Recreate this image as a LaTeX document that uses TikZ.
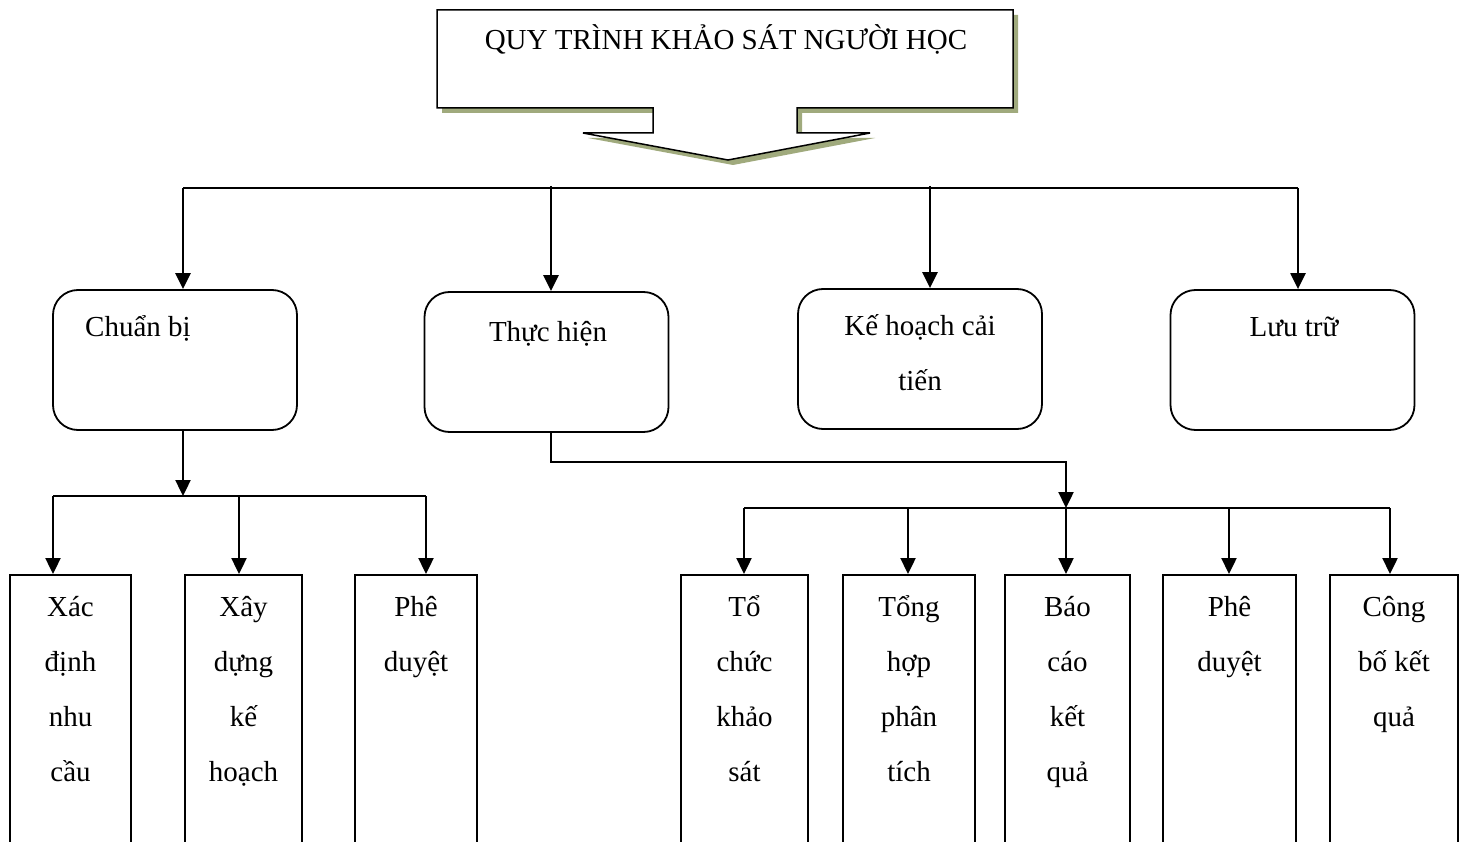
\documentclass[tikz,border=0pt]{standalone}
\usepackage{fontspec}
\setmainfont{Liberation Serif}
\usetikzlibrary{arrows.meta}
\definecolor{shadowc}{RGB}{160,170,125}
\begin{document}
\begin{tikzpicture}[x=1pt,y=-1pt,
  font=\fontsize{29}{55}\selectfont,
  rbox/.style={draw, line width=1.8pt, rounded corners=25pt, minimum width=244pt, minimum height=140pt, inner sep=0pt},
  tbox/.style={draw, line width=2pt, minimum height=285pt, inner sep=0pt},
  lbl/.style={inner sep=0pt, anchor=base},
  col/.style={inner sep=0pt, anchor=north, align=center},
  arr/.style={line width=2.4pt, -{Triangle[length=16pt,width=15pt]}},
  bus/.style={line width=2.4pt}]
\clip (0,0) rectangle (1464,842);
\fill[white] (0,0) rectangle (1464,842);
% title callout
\fill[shadowc] ([shift={(5,5)}]437,10) -- ++(576,0) -- ++(0,98) -- ++(-216,0) -- ++(0,25) -- ++(73,0) -- ++(-142,27) -- ++(-145,-27) -- ++(70,0) -- ++(0,-25) -- ++(-216,0) -- cycle;
\draw[line width=1.5pt, fill=white] (437,10) -- (1013,10) -- (1013,108) -- (797,108) -- (797,133) -- (870,133) -- (728,160) -- (583,133) -- (653,133) -- (653,108) -- (437,108) -- cycle;
\node[lbl] (title) at (726,50) {QUY TRÌNH KHẢO SÁT NGƯỜI HỌC};
% main boxes
\node[rbox] (cb) at (175,360) {};
\node[rbox] (th) at (546.5,362) {};
\node[rbox] (kh) at (920,359) {};
\node[rbox] (lt) at (1292.5,360) {};
\node[lbl] (cbt) at (138,336) {Chuẩn bị};
\node[lbl] (tht) at (548,341) {Thực hiện};
\node[lbl] (kht1) at (920,335) {Kế hoạch cải};
\node[lbl] (kht2) at (920,390) {tiến};
\node[lbl] (ltt) at (1294,336) {Lưu trữ};
% top bus
\coordinate (b1) at (183,188);
\coordinate (b2) at (551,186);
\coordinate (b3) at (930,186);
\coordinate (b4) at (1298,188);
\draw[bus] (b1) -- (b4);
\draw[arr] (b1) -- (b1 |- cb.north);
\draw[arr] (b2) -- (b2 |- th.north);
\draw[arr] (b3) -- (b3 |- kh.north);
\draw[arr] (b4) -- (b4 |- lt.north);
% bottom boxes
\node[tbox, minimum width=121pt] (x1) at (70.5,717.5) {};
\node[tbox, minimum width=117pt] (x2) at (243.5,717.5) {};
\node[tbox, minimum width=122pt] (x3) at (416,717.5) {};
\node[tbox, minimum width=127pt] (y1) at (744.5,717.5) {};
\node[tbox, minimum width=132pt] (y2) at (909,717.5) {};
\node[tbox, minimum width=125pt] (y3) at (1067.5,717.5) {};
\node[tbox, minimum width=133pt] (y4) at (1229.5,717.5) {};
\node[tbox, minimum width=128pt] (y5) at (1394,717.5) {};
\node[col] (x1t) at (70.5,577.5) {\strut Xác\\định\\nhu\\cầu};
\node[col] (x2t) at (243.5,577.5) {\strut Xây\\dựng\\kế\\hoạch};
\node[col] (x3t) at (416,577.5) {\strut Phê\\duyệt};
\node[col] (y1t) at (744.5,577.5) {\strut Tổ\\chức\\khảo\\sát};
\node[col] (y2t) at (909,577.5) {\strut Tổng\\hợp\\phân\\tích};
\node[col] (y3t) at (1067.5,577.5) {\strut Báo\\cáo\\kết\\quả};
\node[col] (y4t) at (1229.5,577.5) {\strut Phê\\duyệt};
\node[col] (y5t) at (1394,577.5) {\strut Công\\bố kết\\quả};
% left sub-tree
\coordinate (c1) at (183,496);
\coordinate (l1) at (53,496);
\coordinate (l2) at (239,496);
\coordinate (l3) at (426,496);
\draw[arr] (c1 |- cb.south) -- (c1);
\draw[bus] (l1) -- (l3);
\draw[arr] (l1) -- (l1 |- x1.north);
\draw[arr] (l2) -- (l2 |- x2.north);
\draw[arr] (l3) -- (l3 |- x3.north);
% right sub-tree
\coordinate (t0) at (551,462);
\coordinate (t1) at (1066,462);
\coordinate (r1) at (744,508);
\coordinate (r2) at (908,508);
\coordinate (r3) at (1066,508);
\coordinate (r4) at (1229,508);
\coordinate (r5) at (1390,508);
\draw[arr] (t0 |- th.south) -- (t0) -- (t1) -- (r3);
\draw[bus] (r1) -- (r5);
\draw[arr] (r1) -- (r1 |- y1.north);
\draw[arr] (r2) -- (r2 |- y2.north);
\draw[arr] (r3) -- (r3 |- y3.north);
\draw[arr] (r4) -- (r4 |- y4.north);
\draw[arr] (r5) -- (r5 |- y5.north);
\end{tikzpicture}
\end{document}
